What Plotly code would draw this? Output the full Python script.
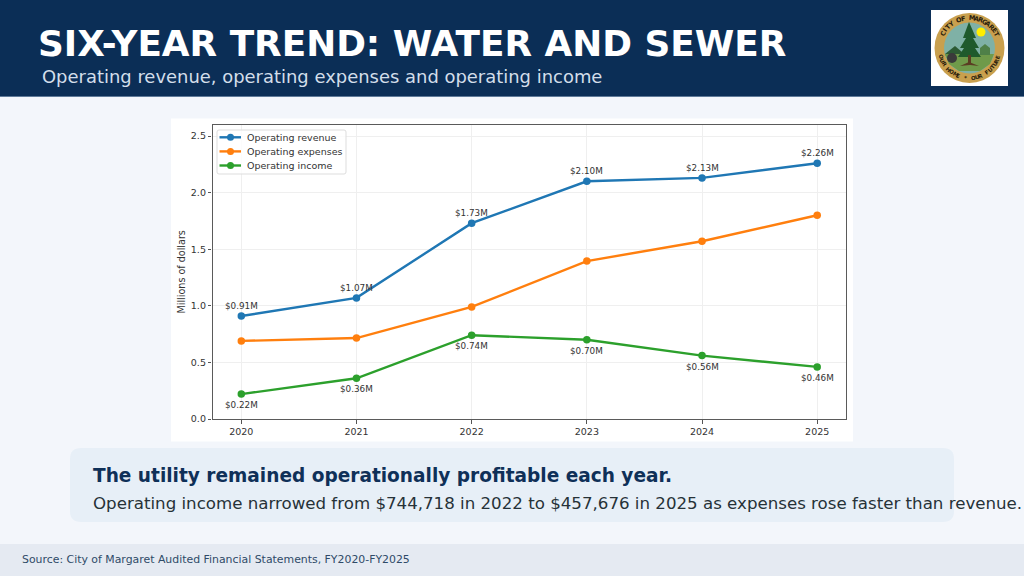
import math

import plotly.graph_objects as go

W, H = 1024, 576
FONT = "DejaVu Sans"

years = [2020, 2021, 2022, 2023, 2024, 2025]
revenue = [0.91, 1.07, 1.73, 2.10, 2.13, 2.26]
expenses = [0.69, 0.715, 0.99, 1.395, 1.57, 1.80]
income = [0.22, 0.36, 0.74, 0.70, 0.56, 0.46]
y_ticks = [0.0, 0.5, 1.0, 1.5, 2.0, 2.5]

BLUE, ORANGE, GREEN = "#1f77b4", "#ff7f0e", "#2ca02c"
INK = "#333333"


def px(x):
    return x / W


def py(y):
    return 1 - y / H


def rect(x0, y0, x1, y1, fill, layer="below", line=None):
    return dict(
        type="rect", xref="paper", yref="paper",
        x0=px(x0), x1=px(x1), y0=py(y0), y1=py(y1),
        fillcolor=fill, layer=layer,
        line=dict(width=0) if line is None else line,
    )


def round_rect(x0, y0, x1, y1, r, fill, layer="below", line=None):
    # corners as quadratic curves, in paper coordinates
    a, b, c, d = px(x0), px(x1), py(y0), py(y1)
    rx, ry = r / W, r / H
    path = (
        f"M {a + rx} {c} L {b - rx} {c} Q {b} {c} {b} {c - ry} "
        f"L {b} {d + ry} Q {b} {d} {b - rx} {d} "
        f"L {a + rx} {d} Q {a} {d} {a} {d + ry} "
        f"L {a} {c - ry} Q {a} {c} {a + rx} {c} Z"
    )
    return dict(
        type="path", xref="paper", yref="paper", path=path,
        fillcolor=fill, layer=layer,
        line=dict(width=0) if line is None else line,
    )


def circle(cx, cy, r, fill, layer="below", line=None):
    return dict(
        type="circle", xref="paper", yref="paper",
        x0=px(cx - r), x1=px(cx + r), y0=py(cy + r), y1=py(cy - r),
        fillcolor=fill, layer=layer,
        line=dict(width=0) if line is None else line,
    )


def poly(points, fill, layer="below"):
    path = "M " + " L ".join(f"{px(x)} {py(y)}" for x, y in points) + " Z"
    return dict(
        type="path", xref="paper", yref="paper", path=path,
        fillcolor=fill, layer=layer, line=dict(width=0),
    )


def label(x, y, text, size, color, bold=False, anchor="left", angle=0):
    return dict(
        xref="paper", yref="paper", x=px(x), y=py(y),
        text=f"<b>{text}</b>" if bold else text,
        xanchor=anchor, yanchor="middle", showarrow=False,
        textangle=angle, borderpad=0,
        font=dict(family=FONT, size=size, color=color),
    )


def arc_text(text, cx, cy, r, start, step, size, color, inward=False):
    # one annotation per letter, turned to follow the seal's ring
    out = []
    for i, ch in enumerate(text):
        a = start + i * step
        x = cx + r * math.sin(math.radians(a))
        y = cy - r * math.cos(math.radians(a))
        out.append(label(x, y, ch, size, color, bold=True, anchor="center",
                         angle=a + 180 if inward else a))
    return out


shapes = [
    rect(0, 0, W, H, "#f3f6fb"),
    rect(0, 0, W, 96.5, "#0b2e56"),
    rect(0, 96, W, 97, "#5f7a99"),
    rect(171, 118.5, 853, 441.5, "#ffffff"),
    round_rect(70, 448, 954, 522, 11, "#e7eff7"),
    rect(0, 544, W, H, "#e5eaf2"),
    # seal
    rect(931, 10, 1008, 86, "#ffffff"),
    circle(969.5, 48, 35, "#c9a04e"),
    circle(969.5, 48, 25.5, "#7fb1a6"),
    poly([(945, 54), (955, 46), (962, 52), (962, 64), (950, 64)], "#2c5a34"),
    poly([(945, 54), (994, 54), (990, 64), (980, 71), (959, 71), (949, 64)], "#6f9a4a"),
    poly([(980, 55), (980, 48), (985, 44), (990, 48), (990, 55)], "#4f8048"),
    circle(952, 58, 5, "#3a3a3a"),
    circle(981, 32, 4.5, "#ffee00"),
    poly([(969, 22), (976, 38), (973, 38), (979, 48), (975, 48), (981, 57),
          (958, 57), (964, 48), (960, 48), (966, 38), (963, 38)], "#1f5a2c"),
    rect(968, 55, 971, 64, "#5a3d22"),
    poly([(960, 66), (969, 62), (979, 66), (970, 65)], "#5a3d22"),
    # legend frame and keys
    round_rect(217, 130, 346, 174, 2, "rgba(255,255,255,0.8)", layer="above",
               line=dict(color="#dddddd", width=1)),
]

annotations = [
    label(37, 43.5, "SIX-YEAR TREND: WATER AND SEWER", 35.85, "#ffffff", bold=True),
    label(40.5, 76.5, "Operating revenue, operating expenses and operating income", 17.95, "#d3deea"),
    label(91.5, 475, "The utility remained operationally profitable each year.", 18.55, "#0f3058", bold=True),
    label(91.5, 503, "Operating income narrowed from $744,718 in 2022 to $457,676 in 2025 "
                     "as expenses rose faster than revenue.", 16.65, "#263238"),
    label(21, 559, "Source: City of Margaret Audited Financial Statements, FY2020-FY2025", 10.9, "#2f4a68"),
    label(181, 272.5, "Millions of dollars", 9.6, INK, anchor="center", angle=-90),
]
annotations += arc_text("CITY OF MARGARET", 969.5, 48, 30, -62, 8.3, 6.5, "#2a1d0c")
annotations += arc_text("OUR HOME * OUR FUTURE", 969.5, 48, 30, 252, -7.2, 5.5, "#2a1d0c", inward=True)

fig = go.Figure()
for name, values, color in [
    ("Operating revenue", revenue, BLUE),
    ("Operating expenses", expenses, ORANGE),
    ("Operating income", income, GREEN),
]:
    fig.add_trace(go.Scatter(
        x=years, y=values, name=name,
        mode="lines+markers",
        line=dict(color=color, width=2.4),
        marker=dict(color=color, size=7.5),
        showlegend=False,
    ))

# value labels: revenue sits above its points, income below
for values, shift in [(revenue, 10), (income, -11)]:
    for year, v in zip(years, values):
        annotations.append(dict(
            xref="x", yref="y", x=year, y=v, text=f"${v:.2f}M",
            yshift=shift, xanchor="center", yanchor="middle", showarrow=False,
            borderpad=0, font=dict(family=FONT, size=8.8, color=INK),
        ))

# legend keys follow the series order
for i, (name, color) in enumerate([
    ("Operating revenue", BLUE),
    ("Operating expenses", ORANGE),
    ("Operating income", GREEN),
]):
    y = 137.3 + i * 14.1
    shapes.append(dict(
        type="line", xref="paper", yref="paper", layer="above",
        x0=px(219.5), x1=px(241), y0=py(y), y1=py(y),
        line=dict(color=color, width=2.4),
    ))
    shapes.append(circle(230.5, y, 3.5, color, layer="above"))
    annotations.append(label(246, y, name, 9.5, INK))

fig.update_layout(
    width=W, height=H,
    margin=dict(l=0, r=0, t=0, b=0, autoexpand=False),
    paper_bgcolor="#f3f6fb",
    plot_bgcolor="rgba(0,0,0,0)",
    showlegend=False,
    shapes=shapes,
    annotations=annotations,
    font=dict(family=FONT, size=9.5, color=INK),
    xaxis=dict(
        domain=[px(212.5), px(846)], range=[2019.75, 2025.25],
        tickvals=years, ticks="outside", ticklen=3.5, tickwidth=0.8,
        tickcolor="#555555", showgrid=True, gridcolor="#efefef", gridwidth=1,
        showline=True, linecolor="#5a5a5a", linewidth=1.3, mirror=True, zeroline=False,
    ),
    yaxis=dict(
        domain=[py(419), py(124.7)], range=[0, 2.6],
        tickvals=y_ticks, tickformat=".1f", ticks="outside", ticklen=3.5, tickwidth=0.8,
        tickcolor="#555555", showgrid=True, gridcolor="#efefef", gridwidth=1,
        showline=True, linecolor="#5a5a5a", linewidth=1.3, mirror=True, zeroline=False,
    ),
)

# body margin and the inline gap under the plot would push the page past 576px
fig.write_html(
    "out.html",
    config={"displayModeBar": False},
    post_script=(
        "document.body.style.margin='0';"
        "document.getElementById('{plot_id}').style.display='block';"
    ),
)
